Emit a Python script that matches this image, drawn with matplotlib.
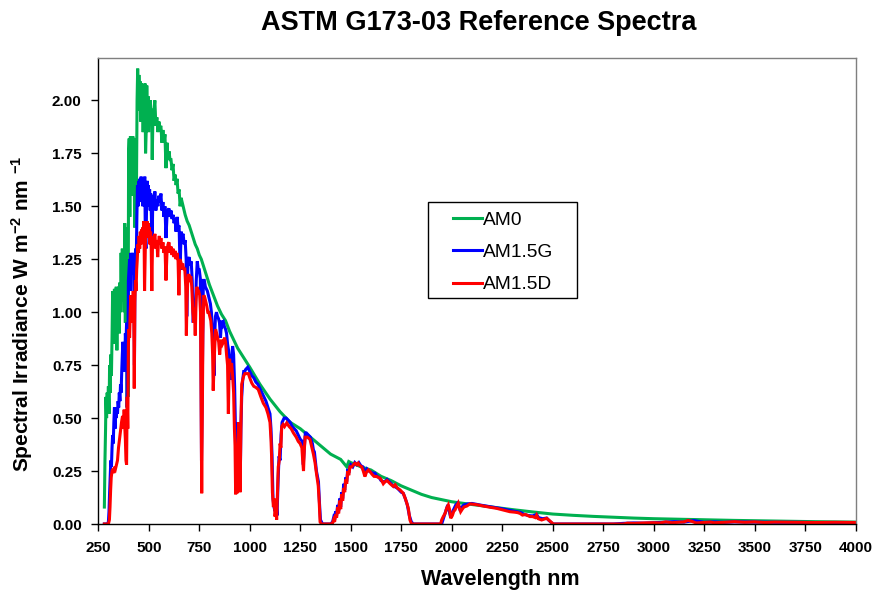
import numpy as np
import matplotlib
matplotlib.use("Agg")
import matplotlib.pyplot as plt
from matplotlib.patches import Rectangle

plt.rcParams['font.family'] = ['Liberation Sans', 'DejaVu Sans']
plt.rcParams['mathtext.fontset'] = 'custom'
plt.rcParams['mathtext.rm'] = 'Liberation Sans:bold'
plt.rcParams['mathtext.bf'] = 'Liberation Sans:bold'
plt.rcParams['mathtext.it'] = 'Liberation Sans:bold'
plt.rcParams['mathtext.default'] = 'bf'

TITLE = "ASTM G173-03 Reference Spectra"
X_LABEL = "Wavelength nm"
Y_LABEL = r"Spectral Irradiance W m$^{-2}$ nm $^{-1}$"
SERIES_NAMES = ["AM0", "AM1.5G", "AM1.5D"]
X_TICKS = list(range(250, 4001, 250))
Y_TICKS = [0.0, 0.25, 0.5, 0.75, 1.0, 1.25, 1.5, 1.75, 2.0]

# Extraterrestrial spectrum (wavelength nm, W m-2 nm-1)
AM0 = [
    (280, 0.08), (283, 0.30), (286, 0.45), (288, 0.60), (291, 0.50), (294, 0.62),
    (297, 0.55), (300, 0.65), (303, 0.52), (306, 0.75), (309, 0.62), (312, 0.80),
    (315, 0.70), (318, 0.88), (321, 1.10), (324, 0.85), (327, 1.05), (330, 1.11),
    (333, 0.90), (336, 1.05), (339, 1.12), (342, 0.82), (345, 1.10), (348, 0.95),
    (351, 1.12), (354, 0.90), (357, 1.14), (360, 1.00), (363, 1.28), (366, 1.05),
    (369, 1.30), (372, 1.12), (375, 1.25), (378, 1.00), (381, 1.42), (384, 0.95),
    (387, 1.40), (390, 1.20), (393, 0.55), (396, 0.90), (397, 0.60), (400, 1.75),
    (403, 1.82), (406, 1.45), (409, 1.83), (412, 1.70), (415, 1.82), (418, 1.55),
    (421, 1.83), (424, 1.60), (427, 1.80), (430, 1.40), (433, 1.65), (436, 1.82),
    (439, 1.60), (442, 2.00), (445, 2.15), (448, 1.95), (451, 2.12), (454, 2.02),
    (457, 2.09), (460, 1.90), (463, 2.08), (466, 1.95), (469, 2.07), (472, 1.85),
    (475, 2.05), (478, 1.90), (481, 2.08), (484, 1.75), (487, 1.85), (490, 2.07),
    (493, 1.90), (496, 2.02), (499, 1.85), (502, 1.98), (505, 1.92), (508, 2.00),
    (511, 1.88), (514, 1.96), (517, 1.72), (520, 1.90), (525, 1.95), (530, 2.00),
    (535, 1.88), (540, 1.92), (545, 1.85), (550, 1.90), (555, 1.87), (560, 1.88),
    (565, 1.80), (570, 1.86), (575, 1.80), (580, 1.84), (585, 1.68), (590, 1.80),
    (595, 1.72), (600, 1.76), (605, 1.72), (610, 1.72), (615, 1.67), (620, 1.70),
    (625, 1.62), (630, 1.65), (635, 1.60), (640, 1.63), (645, 1.56), (650, 1.58),
    (655, 1.50), (660, 1.54), (670, 1.50), (680, 1.46), (690, 1.43), (700, 1.41),
    (710, 1.38), (720, 1.35), (730, 1.32), (740, 1.30), (750, 1.27), (760, 1.25),
    (770, 1.22), (780, 1.19), (790, 1.16), (800, 1.13), (820, 1.08), (840, 1.03),
    (860, 0.99), (880, 0.96), (900, 0.91), (920, 0.87), (940, 0.83), (960, 0.80),
    (980, 0.77), (1000, 0.74), (1050, 0.66), (1100, 0.59), (1150, 0.53),
    (1200, 0.48), (1250, 0.45), (1300, 0.41), (1350, 0.37), (1400, 0.33),
    (1450, 0.305), (1480, 0.27), (1490, 0.295), (1500, 0.29), (1550, 0.27),
    (1600, 0.255), (1650, 0.225), (1700, 0.205), (1750, 0.18), (1800, 0.16),
    (1850, 0.14), (1900, 0.125), (1950, 0.115), (2000, 0.105), (2100, 0.092),
    (2200, 0.08), (2300, 0.068), (2400, 0.057), (2500, 0.047), (2600, 0.041),
    (2700, 0.036), (2800, 0.032), (2900, 0.028), (3000, 0.025), (3200, 0.021),
    (3400, 0.017), (3600, 0.014), (3800, 0.011), (4000, 0.009),
]

# Global tilt spectrum
AM15G = [
    (280, 0.0), (295, 0.0), (300, 0.01), (303, 0.06), (306, 0.15), (309, 0.22),
    (312, 0.30), (315, 0.27), (318, 0.36), (321, 0.42), (324, 0.38), (327, 0.48),
    (330, 0.55), (333, 0.45), (336, 0.52), (339, 0.50), (342, 0.55), (345, 0.52),
    (348, 0.58), (351, 0.55), (354, 0.62), (357, 0.58), (360, 0.66), (363, 0.62),
    (366, 0.72), (369, 0.80), (372, 0.86), (375, 0.78), (378, 0.84), (381, 0.72),
    (384, 0.90), (387, 0.85), (390, 0.95), (393, 0.55), (396, 0.70), (399, 1.15),
    (402, 1.20), (405, 1.25), (408, 1.10), (411, 1.28), (414, 1.22), (417, 1.27),
    (420, 1.18), (423, 1.28), (426, 1.10), (429, 0.75), (432, 1.25), (435, 1.30),
    (438, 1.25), (441, 1.45), (444, 1.60), (447, 1.50), (450, 1.62), (453, 1.55),
    (456, 1.63), (459, 1.52), (462, 1.64), (465, 1.58), (468, 1.60), (471, 1.50),
    (474, 1.62), (477, 1.55), (480, 1.64), (483, 1.35), (486, 1.30), (489, 1.50),
    (492, 1.62), (495, 1.54), (498, 1.60), (501, 1.50), (504, 1.58), (507, 1.48),
    (510, 1.56), (513, 1.45), (516, 1.30), (519, 1.48), (522, 1.55), (525, 1.50),
    (530, 1.57), (535, 1.48), (540, 1.53), (545, 1.50), (550, 1.55), (555, 1.52),
    (560, 1.56), (565, 1.48), (570, 1.52), (575, 1.45), (580, 1.50), (585, 1.35),
    (590, 1.45), (595, 1.48), (600, 1.49), (605, 1.45), (610, 1.48), (615, 1.44),
    (620, 1.46), (625, 1.42), (630, 1.44), (635, 1.38), (640, 1.45), (645, 1.40),
    (650, 1.41), (655, 1.20), (660, 1.38), (665, 1.36), (670, 1.37), (675, 1.32),
    (680, 1.34), (685, 1.25), (688, 0.98), (691, 1.15), (695, 1.25), (700, 1.26),
    (705, 1.22), (710, 1.24), (715, 1.15), (720, 0.95), (725, 1.05), (730, 0.98),
    (735, 1.15), (740, 1.24), (745, 1.20), (750, 1.20), (755, 1.16), (758, 0.90),
    (761, 0.30), (764, 0.60), (767, 0.95), (770, 1.15), (775, 1.15), (780, 1.12),
    (790, 1.10), (800, 1.06), (805, 1.04), (810, 1.00), (815, 0.92), (820, 0.80),
    (823, 0.70), (826, 0.88), (830, 0.98), (835, 1.00), (840, 0.98), (845, 0.97),
    (850, 0.95), (855, 0.88), (860, 0.96), (865, 0.94), (870, 0.95), (875, 0.93),
    (880, 0.92), (885, 0.90), (890, 0.85), (895, 0.82), (900, 0.75), (905, 0.68),
    (910, 0.78), (915, 0.84), (920, 0.80), (925, 0.65), (928, 0.50), (931, 0.28),
    (934, 0.48), (937, 0.20), (940, 0.46), (943, 0.18), (946, 0.40), (950, 0.48),
    (953, 0.22), (956, 0.45), (960, 0.60), (965, 0.68), (970, 0.72), (975, 0.72),
    (980, 0.73), (990, 0.74), (1000, 0.72), (1010, 0.70), (1020, 0.69),
    (1030, 0.67), (1040, 0.66), (1050, 0.64), (1060, 0.62), (1070, 0.60),
    (1080, 0.58), (1090, 0.55), (1100, 0.52), (1105, 0.45), (1110, 0.33),
    (1115, 0.12), (1120, 0.08), (1125, 0.06), (1130, 0.10), (1135, 0.04),
    (1140, 0.20), (1145, 0.32), (1150, 0.30), (1155, 0.42), (1160, 0.48),
    (1170, 0.50), (1180, 0.50), (1190, 0.49), (1200, 0.48), (1210, 0.46),
    (1220, 0.45), (1230, 0.44), (1240, 0.42), (1250, 0.40), (1260, 0.39),
    (1265, 0.28), (1270, 0.36), (1275, 0.43), (1280, 0.43), (1290, 0.42),
    (1300, 0.41), (1310, 0.38), (1315, 0.35), (1320, 0.34), (1330, 0.25),
    (1340, 0.20), (1345, 0.10), (1350, 0.02), (1360, 0.0), (1400, 0.0),
    (1410, 0.01), (1415, 0.03), (1420, 0.02), (1425, 0.06), (1430, 0.04),
    (1435, 0.09), (1440, 0.06), (1445, 0.12), (1450, 0.08), (1455, 0.15),
    (1460, 0.12), (1465, 0.19), (1470, 0.16), (1475, 0.22), (1480, 0.20),
    (1485, 0.26), (1490, 0.24), (1495, 0.27), (1500, 0.28), (1510, 0.27),
    (1520, 0.29), (1530, 0.28), (1540, 0.29), (1550, 0.275), (1560, 0.27),
    (1570, 0.24), (1580, 0.26), (1590, 0.25), (1600, 0.245), (1610, 0.24),
    (1620, 0.24), (1630, 0.225), (1640, 0.22), (1650, 0.205), (1660, 0.20),
    (1670, 0.20), (1680, 0.21), (1690, 0.20), (1700, 0.19), (1710, 0.18),
    (1720, 0.175), (1730, 0.17), (1740, 0.16), (1750, 0.15), (1760, 0.145),
    (1770, 0.12), (1780, 0.09), (1790, 0.04), (1800, 0.01), (1810, 0.0),
    (1950, 0.0), (1960, 0.03), (1970, 0.06), (1980, 0.09), (1990, 0.05),
    (1995, 0.03), (2000, 0.05), (2010, 0.07), (2020, 0.09), (2030, 0.10),
    (2040, 0.07), (2050, 0.08), (2060, 0.09), (2080, 0.095), (2100, 0.097),
    (2150, 0.088), (2200, 0.08), (2250, 0.072), (2300, 0.062), (2340, 0.055),
    (2360, 0.045), (2380, 0.04), (2400, 0.038), (2420, 0.045), (2430, 0.03),
    (2450, 0.025), (2470, 0.028), (2480, 0.018), (2500, 0.0), (2600, 0.0),
    (2700, 0.0), (2800, 0.0), (2850, 0.003), (2900, 0.005), (2950, 0.004),
    (3000, 0.006), (3050, 0.008), (3100, 0.011), (3150, 0.009), (3200, 0.016),
    (3250, 0.008), (3300, 0.010), (3350, 0.008), (3400, 0.010), (3500, 0.009),
    (3600, 0.008), (3700, 0.008), (3800, 0.007), (3900, 0.007), (4000, 0.007),
]

# Direct + circumsolar spectrum
AM15D = [
    (280, 0.0), (300, 0.0), (305, 0.02), (308, 0.08), (311, 0.16), (314, 0.22),
    (318, 0.25), (322, 0.26), (326, 0.24), (330, 0.27), (335, 0.26), (340, 0.28),
    (345, 0.30), (350, 0.36), (355, 0.40), (360, 0.44), (365, 0.48), (370, 0.51),
    (375, 0.45), (378, 0.54), (381, 0.46), (384, 0.40), (387, 0.30), (390, 0.28),
    (393, 0.60), (396, 0.45), (399, 0.85), (402, 0.92), (405, 0.88), (408, 1.00),
    (411, 1.08), (414, 0.95), (417, 1.05), (420, 1.00), (423, 1.10), (426, 0.95),
    (428, 0.64), (431, 1.05), (434, 1.15), (437, 1.10), (440, 1.20), (443, 1.25),
    (446, 1.32), (449, 1.28), (452, 1.36), (455, 1.30), (458, 1.38), (461, 1.32),
    (464, 1.39), (467, 1.33), (470, 1.40), (473, 1.35), (476, 1.43), (479, 1.10),
    (482, 1.25), (485, 1.42), (488, 1.36), (491, 1.43), (494, 1.38), (497, 1.42),
    (500, 1.35), (503, 1.40), (506, 1.32), (509, 1.38), (512, 1.30), (515, 1.10),
    (518, 1.30), (521, 1.36), (525, 1.33), (530, 1.37), (535, 1.30), (540, 1.34),
    (544, 1.26), (548, 1.33), (552, 1.36), (556, 1.32), (560, 1.35), (565, 1.30),
    (570, 1.33), (575, 1.28), (580, 1.31), (585, 1.15), (590, 1.28), (595, 1.32),
    (600, 1.33), (605, 1.28), (610, 1.31), (615, 1.27), (620, 1.30), (625, 1.26),
    (630, 1.29), (635, 1.25), (640, 1.28), (645, 1.24), (649, 1.08), (653, 1.25),
    (658, 1.24), (663, 1.22), (668, 1.23), (673, 1.20), (678, 1.21), (683, 1.12),
    (686, 0.89), (689, 1.05), (693, 1.15), (698, 1.18), (703, 1.16), (708, 1.17),
    (713, 1.12), (718, 1.00), (722, 0.95), (726, 1.02), (730, 0.89), (734, 1.05),
    (738, 1.12), (742, 1.10), (747, 1.10), (752, 1.08), (756, 1.00), (759, 0.60),
    (762, 0.145), (765, 0.50), (768, 0.90), (772, 1.08), (777, 1.07), (782, 1.05),
    (787, 1.03), (792, 1.00), (797, 1.00), (802, 0.98), (807, 0.96), (812, 0.90),
    (816, 0.80), (819, 0.63), (823, 0.75), (827, 0.85), (831, 0.92), (836, 0.90),
    (841, 0.88), (846, 0.86), (851, 0.80), (855, 0.85), (860, 0.87), (865, 0.85),
    (870, 0.86), (875, 0.88), (880, 0.86), (885, 0.80), (890, 0.75), (894, 0.52),
    (897, 0.70), (900, 0.78), (905, 0.72), (910, 0.76), (915, 0.70), (920, 0.62),
    (924, 0.45), (927, 0.37), (930, 0.14), (934, 0.30), (937, 0.145), (941, 0.35),
    (945, 0.48), (948, 0.40), (952, 0.15), (956, 0.45), (960, 0.66), (965, 0.68),
    (970, 0.70), (976, 0.71), (985, 0.71), (993, 0.71), (1000, 0.69),
    (1010, 0.665), (1020, 0.65), (1030, 0.645), (1042, 0.635), (1055, 0.60),
    (1067, 0.57), (1080, 0.55), (1090, 0.52), (1100, 0.48), (1105, 0.40),
    (1108, 0.32), (1112, 0.15), (1117, 0.08), (1121, 0.12), (1125, 0.035),
    (1129, 0.07), (1133, 0.02), (1137, 0.15), (1141, 0.27), (1146, 0.30),
    (1150, 0.38), (1154, 0.36), (1158, 0.46), (1165, 0.47), (1172, 0.46),
    (1183, 0.477), (1195, 0.46), (1205, 0.45), (1216, 0.43), (1230, 0.41),
    (1240, 0.39), (1249, 0.38), (1258, 0.36), (1262, 0.30), (1266, 0.25),
    (1270, 0.35), (1274, 0.41), (1285, 0.41), (1298, 0.40), (1308, 0.36),
    (1315, 0.33), (1323, 0.29), (1330, 0.24), (1339, 0.18), (1344, 0.10),
    (1348, 0.01), (1355, 0.0), (1405, 0.0), (1410, 0.005), (1415, 0.02),
    (1420, 0.01), (1425, 0.045), (1430, 0.03), (1435, 0.08), (1440, 0.05),
    (1445, 0.11), (1450, 0.07), (1455, 0.14), (1460, 0.11), (1465, 0.17),
    (1470, 0.15), (1475, 0.21), (1480, 0.19), (1485, 0.25), (1490, 0.23),
    (1496, 0.27), (1505, 0.27), (1513, 0.28), (1521, 0.287), (1530, 0.28),
    (1537, 0.287), (1545, 0.275), (1554, 0.27), (1562, 0.25), (1570, 0.224),
    (1578, 0.245), (1587, 0.255), (1595, 0.248), (1605, 0.235), (1615, 0.225),
    (1628, 0.224), (1645, 0.216), (1653, 0.205), (1661, 0.19), (1670, 0.20),
    (1680, 0.205), (1695, 0.19), (1711, 0.177), (1720, 0.185), (1730, 0.17),
    (1744, 0.161), (1760, 0.145), (1770, 0.12), (1777, 0.10), (1785, 0.074),
    (1793, 0.019), (1801, 0.0), (1945, 0.0), (1950, 0.019), (1958, 0.035),
    (1967, 0.05), (1975, 0.075), (1983, 0.09), (1990, 0.065), (1995, 0.027),
    (2003, 0.04), (2010, 0.06), (2016, 0.066), (2025, 0.085), (2032, 0.098),
    (2038, 0.075), (2044, 0.058), (2052, 0.07), (2060, 0.08), (2075, 0.085),
    (2090, 0.095), (2110, 0.093), (2130, 0.09), (2156, 0.085), (2190, 0.079),
    (2222, 0.074), (2255, 0.066), (2288, 0.058), (2310, 0.056), (2325, 0.054),
    (2338, 0.05), (2350, 0.042), (2365, 0.045), (2387, 0.035), (2400, 0.035),
    (2414, 0.03), (2420, 0.042), (2428, 0.025), (2445, 0.019), (2460, 0.024),
    (2470, 0.027), (2485, 0.015), (2503, 0.0), (2850, 0.0), (2870, 0.004),
    (2900, 0.003), (2950, 0.005), (3000, 0.006), (3030, 0.005), (3060, 0.01),
    (3090, 0.006), (3120, 0.008), (3150, 0.01), (3170, 0.017), (3190, 0.012),
    (3210, 0.005), (3250, 0.007), (3280, 0.009), (3300, 0.006), (3350, 0.008),
    (3400, 0.011), (3450, 0.008), (3500, 0.01), (3550, 0.007), (3600, 0.009),
    (3700, 0.008), (3800, 0.007), (3900, 0.008), (4000, 0.007),
]

COLORS = ["#00B050", "#0000FF", "#FF0000"]

W, H = 877, 595
fig = plt.figure(figsize=(W / 100, H / 100), dpi=100)
fig.patch.set_facecolor("white")

left, right, top, bottom = 98.3, 855.7, 58, 524
ax = fig.add_axes([left / W, 1 - bottom / H, (right - left) / W, (bottom - top) / H])

handles = []
for pts, color, name in zip([AM0, AM15G, AM15D], COLORS, SERIES_NAMES):
    arr = np.array(pts, dtype=float)
    h, = ax.plot(arr[:, 0], arr[:, 1], color=color, lw=2.2, label=name,
                 solid_joinstyle="miter", clip_on=True)
    handles.append(h)

ax.set_xlim(250, 4000)
ax.set_ylim(0, 2.2)
ax.set_xticks(X_TICKS)
ax.set_xticklabels([str(t) for t in X_TICKS])
ax.set_yticks(Y_TICKS)
ax.set_yticklabels([f"{t:.2f}" for t in Y_TICKS])
for lab in ax.get_xticklabels() + ax.get_yticklabels():
    lab.set_fontweight("bold")
    lab.set_fontsize(11)
ax.tick_params(axis="x", direction="out", length=5, width=1, pad=7, colors="black")
ax.tick_params(axis="y", direction="out", length=5, width=1, pad=7, colors="black")

for side in ["left", "bottom"]:
    ax.spines[side].set_color("black")
    ax.spines[side].set_linewidth(1.0)
for side in ["top", "right"]:
    ax.spines[side].set_color("#7f7f7f")
    ax.spines[side].set_linewidth(1.0)

fig.text(479 / W, 1 - 23 / H, TITLE, ha="center", va="center",
         fontsize=19.5, fontweight="bold")
fig.text(500 / W, 1 - 580 / H, X_LABEL, ha="center", va="center",
         fontsize=15.5, fontweight="bold")
fig.text(22 / W, 1 - 314 / H, Y_LABEL, ha="center", va="center",
         rotation=90, fontsize=15, fontweight="bold")

# legend: entries placed by matplotlib, border drawn as a plain box
leg = ax.legend(handles=handles, loc="upper left",
                bbox_to_anchor=(453 / W, 1 - 211.5 / H),
                bbox_transform=fig.transFigure, frameon=False, fontsize=13.8,
                handlelength=1.5, handletextpad=0.05, labelspacing=0.77,
                borderpad=0.0, borderaxespad=0.0)
for line in leg.get_lines():
    line.set_linewidth(2.2)
fig.add_artist(Rectangle((428 / W, 1 - 298 / H), (577 - 428) / W, (298 - 202) / H,
                         transform=fig.transFigure, fill=False,
                         edgecolor="black", linewidth=1.0))

fig.savefig("out.png", dpi=100, facecolor="white")
